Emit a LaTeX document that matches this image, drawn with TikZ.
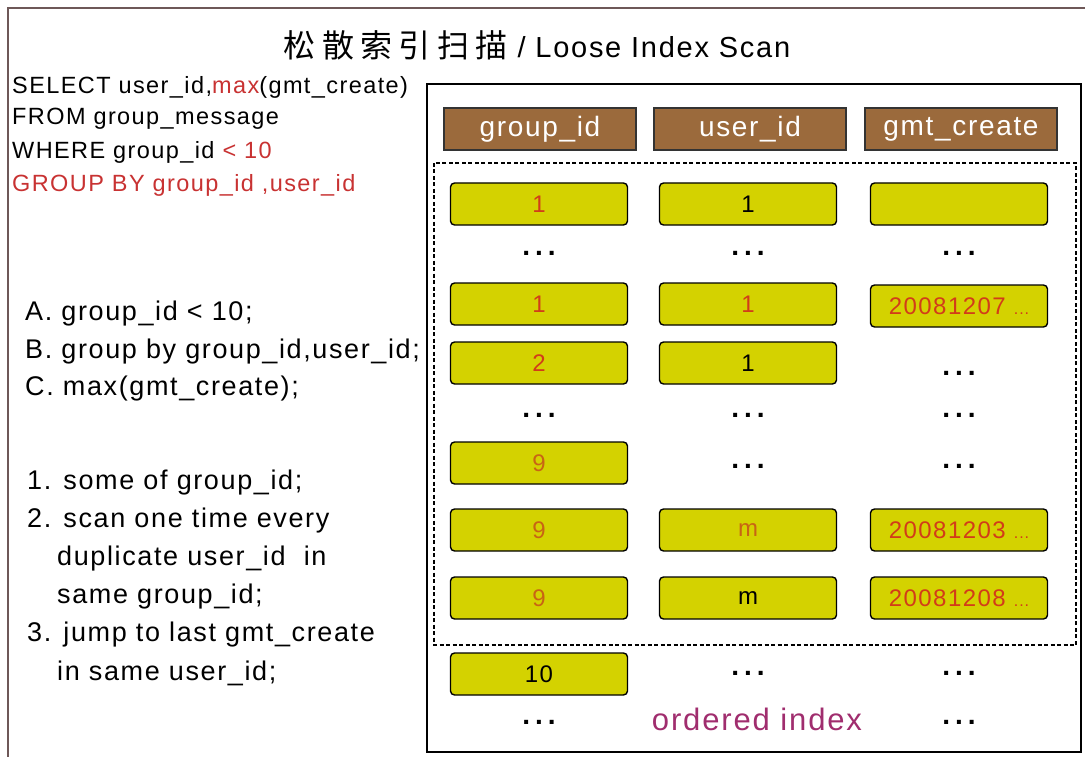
\documentclass[tikz,border=0pt]{standalone}
\usepackage{fontspec}
\setmainfont{Liberation Sans}[LetterSpace=6]
\newfontfamily\cjk{Noto Sans CJK SC}[LetterSpace=20]

\definecolor{cellyellow}{RGB}{212,210,0}
\definecolor{headbrown}{RGB}{155,106,60}
\definecolor{framegray}{RGB}{110,88,88}
\definecolor{sqlred}{RGB}{200,50,50}
\definecolor{valred}{RGB}{210,60,25}
\definecolor{valorange}{RGB}{200,100,20}
\definecolor{idxpurple}{RGB}{160,45,110}

\tikzset{
  cell/.style={rectangle, rounded corners=4pt, draw=black, line width=1.4pt,
    fill=cellyellow, minimum width=177pt, minimum height=42pt, inner sep=0pt,
    font=\fontsize{24}{24}\selectfont},
  head/.style={rectangle, draw=black!80, line width=1.2pt, fill=headbrown, text=white,
    minimum width=192pt, minimum height=42pt, inner sep=0pt, font=\fontsize{28}{28}\selectfont},
  more/.style={inner sep=0pt, font=\fontsize{28}{28}\selectfont\bfseries\addfontfeature{LetterSpace=18}},
  sql/.style={anchor=west, inner sep=0pt, font=\fontsize{23.5}{23.5}\selectfont},
  note/.style={anchor=west, inner sep=0pt, font=\fontsize{27}{27}\selectfont}
}
\newcommand{\datedots}{{\fontsize{16}{16}\selectfont ...}}

\begin{document}
\begin{tikzpicture}[x=1pt,y=-1pt]
\useasboundingbox (0,0) rectangle (1085,757);
% frames
\draw[framegray, line width=2pt] (8,770) -- (8,8) -- (1095,8);
\draw[line width=1.8pt] (427,84) rectangle (1081,752);
\draw[dash pattern=on 4pt off 2.5pt, line width=1.3pt] (434,163) rectangle (1076,645);

% title
\node[font=\fontsize{29}{29}\selectfont] (title) at (537,45) {{\fontsize{32}{32}\selectfont\cjk 松散索引扫描} / Loose Index Scan};

% query
\node[sql] (sel) at (12,87) {SELECT user\_id,\textcolor{sqlred}{max}(gmt\_create)};
\node[sql] (from) at (12,119) {FROM group\_message};
\node[sql] (where) at (12,152) {WHERE group\_id \textcolor{sqlred}{< 10}};
\node[sql, text=sqlred] (grp) at (12,185) {GROUP BY group\_id ,user\_id};

% steps
\node[note] (a) at (25,314) {A. group\_id < 10;};
\node[note] (b) at (25,352) {B. group by group\_id,user\_id;};
\node[note] (c) at (25,389) {C. max(gmt\_create);};
\node[note] (s1) at (27,483) {1. some of group\_id;};
\node[note] (s2) at (27,521) {2. scan one time every};
\node[note] (s2b) at (57,559) {duplicate user\_id\ \ in};
\node[note] (s2c) at (57,597) {same group\_id;};
\node[note] (s3) at (27,635) {3. jump to last gmt\_create};
\node[note] (s3b) at (57,673) {in same user\_id;};

% index columns
\node[head] (hgroup) at (540,129) {group\_id};
\node[head] (huser) at (750,129) {user\_id};
\node[head] (hgmt) at (961,129) {gmt\_create};

\node[cell, text=valred] (g1) at (539,204) {1};
\node[cell] (u1) at (748,204) {1};
\node[cell] (t1) at (959,204) {};
\node[more] (d1a) at (539,253) {...};
\node[more] (d1b) at (748,253) {...};
\node[more] (d1c) at (959,253) {...};

\node[cell, text=valred] (g2) at (539,304) {1};
\node[cell, text=valred] (u2) at (748,304) {1};
\node[cell, text=valred] (t2) at (959,306) {20081207 \datedots};

\node[cell, text=valred] (g3) at (539,363) {2};
\node[cell] (u3) at (748,363) {\raisebox{-6pt}{1}};
\node[more] (d3c) at (959,373) {...};
\node[more] (d4a) at (539,415) {...};
\node[more] (d4b) at (748,415) {...};
\node[more] (d4c) at (959,415) {...};

\node[cell, text=valorange] (g5) at (539,463) {9};
\node[more] (d5b) at (748,466) {...};
\node[more] (d5c) at (959,466) {...};

\node[cell, text=valorange] (g6) at (539,530) {9};
\node[cell, text=valorange] (u6) at (748,530) {m};
\node[cell, text=valred] (t6) at (959,530) {20081203 \datedots};

\node[cell, text=valorange] (g7) at (539,598) {9};
\node[cell] (u7) at (748,598) {m};
\node[cell, text=valred] (t7) at (959,598) {20081208 \datedots};

\node[cell] (g8) at (539,674) {10};
\node[more] (d8b) at (748,673) {...};
\node[more] (d8c) at (959,673) {...};

\node[more] (d9a) at (539,722) {...};
\node[font=\fontsize{31}{31}\selectfont, text=idxpurple] (order) at (757,719) {ordered index};
\node[more] (d9c) at (959,722) {...};
\end{tikzpicture}
\end{document}
